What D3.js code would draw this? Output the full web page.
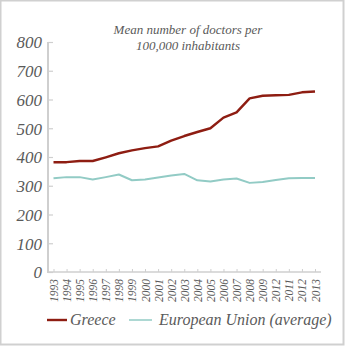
<!DOCTYPE html>
<html><head><meta charset="utf-8">
<script src="https://cdn.jsdelivr.net/npm/d3@7"></script>
<style>
html,body{margin:0;padding:0;background:#fff;}
svg{display:block;}
</style></head>
<body>
<script>
const years = ["1993","1994","1995","1996","1997","1998","1999","2000","2001","2002","2003","2004","2005","2006","2007","2008","2009","2012","2011","2012","2013"];
const greece = [382,382,386,386,399,413,423,431,437,457,473,487,500,537,555,604,613,615,616,625,628];
const eu = [326,330,330,322,330,339,319,322,329,336,341,319,315,322,325,310,313,320,326,327,327];
const yTicks = [0,100,200,300,400,500,600,700,800];
const titleLines = ["Mean number of doctors per","100,000 inhabitants"];
const seriesNames = ["Greece","European Union (average)"];
const colors = ["#8e1d12","#92cbc5"];
const FONT = "'Liberation Serif'";

const W = 345, H = 347;
const svg = d3.select("body").append("svg").attr("width",W).attr("height",H);

svg.append("rect").attr("x",0.5).attr("y",0.5).attr("width",343).attr("height",344)
  .attr("fill","none").attr("stroke","#d0d0d0").attr("stroke-width",2);

const x = d3.scalePoint().domain(d3.range(years.length)).range([53.5,315]);
const y = d3.scaleLinear().domain([0,800]).range([272,42]);

// title
svg.append("text").attr("x",188).attr("y",34).attr("text-anchor","middle")
  .selectAll("tspan").data(titleLines).join("tspan")
  .attr("x",188).attr("dy",(d,i)=>i?16:0).text(d=>d);

// y axis
const ya = svg.append("g").attr("transform","translate(48,0)")
  .call(d3.axisRight(y).tickValues(yTicks).tickSize(5).tickFormat(d3.format("d")));
ya.attr("font-family",null).attr("font-size",null);
ya.select(".domain").attr("stroke","#cfcfcf").attr("stroke-width",2).attr("d","M0,42V273");
ya.selectAll(".tick line").attr("stroke","#cfcfcf").attr("stroke-width",1.2);
ya.selectAll(".tick text").attr("x",-6).attr("text-anchor","end").attr("dy","0.35em")
  .attr("class","big");

// x axis
const xa = svg.append("g").attr("transform","translate(0,272)")
  .call(d3.axisTop(x).tickSize(3).tickFormat(i=>years[i]));
xa.attr("font-family",null).attr("font-size",null);
xa.select(".domain").attr("stroke","#cfcfcf").attr("stroke-width",1.5).attr("d","M48,0H321");
xa.selectAll(".tick line").attr("stroke","#cfcfcf");
xa.selectAll(".tick text").attr("transform","rotate(-90)").attr("x",-7).attr("y",0)
  .attr("dy","0.35em").attr("text-anchor","end").attr("class","small");

// lines
const line = d3.line().x((d,i)=>x(i)).y(d=>y(d));
[greece,eu].forEach((s,k)=>{
  svg.append("path").datum(s).attr("d",line).attr("fill","none")
    .attr("stroke",colors[k]).attr("stroke-width",k?2:2.4).attr("stroke-linejoin","round");
});

// legend
const lg = [{x1:47,x2:67,tx:70},{x1:129,x2:152,tx:159}];
lg.forEach((l,k)=>{
  svg.append("line").attr("x1",l.x1).attr("x2",l.x2).attr("y1",320).attr("y2",320)
    .attr("stroke",colors[k]).attr("stroke-width",k?1.5:2.4);
  svg.append("text").attr("x",l.tx).attr("y",325).attr("class","leg").text(seriesNames[k]);
});

svg.selectAll("text")
  .style("font-family",FONT).style("font-style","italic").style("fill","#5a5a5a")
  .style("font-size",function(){
    const c = this.getAttribute("class");
    return c==="big"?"17px":c==="small"?"11.5px":c==="leg"?"16px":"13px";
  });
</script>
</body></html>
